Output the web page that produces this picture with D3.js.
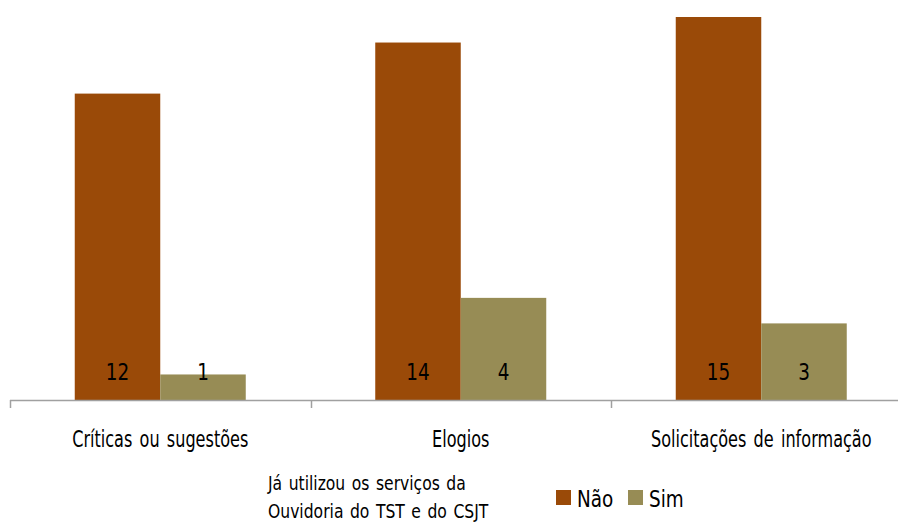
<!DOCTYPE html>
<html>
<head>
<meta charset="utf-8">
<script src="https://cdn.jsdelivr.net/npm/d3@7"></script>
<style>
  body { margin: 0; background: #fff; }
  svg { display: block; font-family: "DejaVu Sans", sans-serif; }
</style>
</head>
<body>
<div id="chart"></div>
<script>
var categories = ["Críticas ou sugestões", "Elogios", "Solicitações de informação"]
var series = ["Não", "Sim"]
var naoValues = [12, 14, 15]
var simValues = [1, 4, 3]
var colors = ["#9A4A08", "#978C55"]

var width = 898
var height = 522
var squeeze = 0.8   // fake a condensed face by squashing text horizontally

var svg = d3.select("#chart")
    .append("svg")
    .attr("width", width)
    .attr("height", height)

// categories are spaced ~300px apart; the last band runs off the right edge
var x = d3.scaleBand()
    .domain(categories)
    .range([10, 911.5])

var x1 = d3.scaleBand()
    .domain(series)
    .range([0, 171])

var y = d3.scaleLinear()
    .domain([0, 15])
    .range([400, 17])

var rows = categories.map(function (c, i) {
    return { cat: c, values: [naoValues[i], simValues[i]] }
})

var groups = svg.selectAll("g.grp")
    .data(rows)
    .enter()
    .append("g")
    .attr("class", "grp")
    .attr("transform", function (d) { return "translate(" + (x(d.cat) + (x.bandwidth() - 171) / 2) + ",0)" })

groups.selectAll("rect")
    .data(function (d) { return d.values.map(function (v, j) { return { s: series[j], v: v, j: j } }) })
    .enter()
    .append("rect")
    .attr("x", function (d) { return x1(d.s) })
    .attr("width", x1.bandwidth())
    .attr("y", function (d) { return y(d.v) })
    .attr("height", function (d) { return y(0) - y(d.v) })
    .attr("fill", function (d) { return colors[d.j] })

// value labels sit near the base of each bar
groups.selectAll("text.val")
    .data(function (d) { return d.values.map(function (v, j) { return { s: series[j], v: v } }) })
    .enter()
    .append("text")
    .attr("class", "val")
    .attr("transform", function (d) { return "translate(" + (x1(d.s) + x1.bandwidth() / 2) + ",380) scale(" + squeeze + ",1)" })
    .attr("text-anchor", "middle")
    .attr("font-size", 23)
    .attr("fill", "#000")
    .text(function (d) { return d.v })

// x axis: line plus downward ticks at band boundaries
var axis = svg.append("g")
axis.append("line")
    .attr("x1", 10).attr("x2", width)
    .attr("y1", 400.5).attr("y2", 400.5)
    .attr("stroke", "#A0A0A0")
    .attr("stroke-width", 1.5)

axis.selectAll("line.tick")
    .data(categories)
    .enter()
    .append("line")
    .attr("class", "tick")
    .attr("x1", function (d) { return Math.round(x(d)) + 0.5 })
    .attr("x2", function (d) { return Math.round(x(d)) + 0.5 })
    .attr("y1", 400)
    .attr("y2", 408)
    .attr("stroke", "#A0A0A0")
    .attr("stroke-width", 1.5)

axis.selectAll("text")
    .data(categories)
    .enter()
    .append("text")
    .attr("transform", function (d) { return "translate(" + (x(d) + x.bandwidth() / 2) + ",447) scale(0.7,1)" })
    .attr("text-anchor", "middle")
    .attr("font-size", 23)
    .attr("word-spacing", 3)
    .attr("fill", "#000")
    .text(function (d) { return d })

// legend title
var title = svg.append("text")
    .attr("transform", "translate(268,490) scale(0.78,1)")
    .attr("font-size", 20)
    .attr("word-spacing", 2)
    .attr("fill", "#000")
title.append("tspan").attr("x", 0).text("Já utilizou os serviços da")
title.append("tspan").attr("x", 0).attr("dy", 28).text("Ouvidoria do TST e do CSJT")

// legend items
var legendX = [556, 628]
var legend = svg.selectAll("g.leg")
    .data(series)
    .enter()
    .append("g")
    .attr("class", "leg")
    .attr("transform", function (d, i) { return "translate(" + legendX[i] + ",490)" })

legend.append("rect")
    .attr("width", 15)
    .attr("height", 15)
    .attr("fill", function (d, i) { return colors[i] })

legend.append("text")
    .attr("transform", "translate(21,17) scale(" + squeeze + ",1)")
    .attr("font-size", 23)
    .attr("fill", "#000")
    .text(function (d) { return d })
</script>
</body>
</html>
